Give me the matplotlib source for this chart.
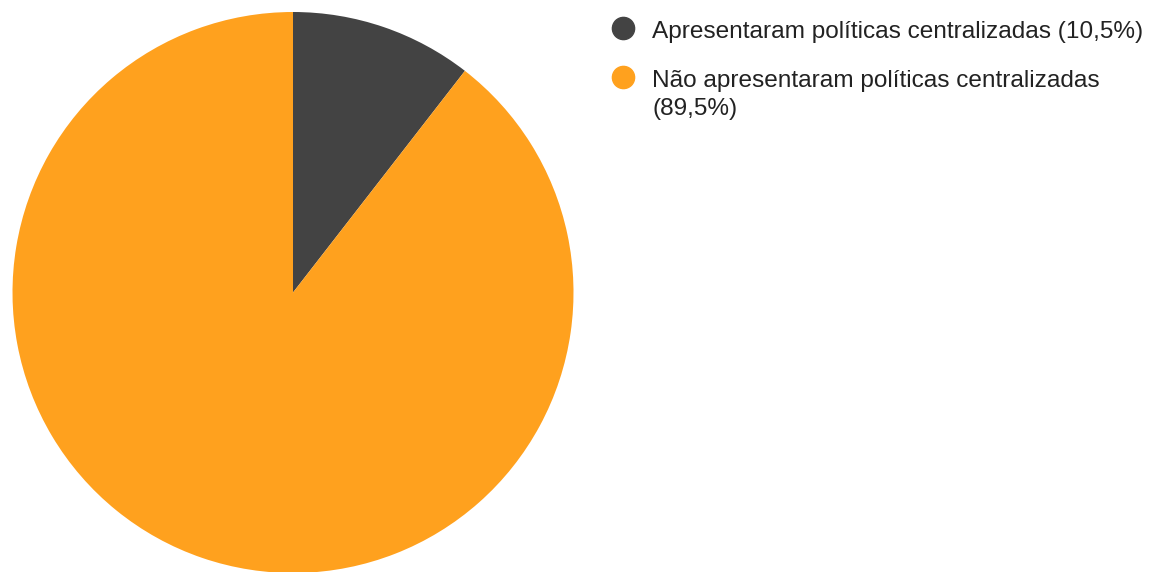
import matplotlib.pyplot as plt
from matplotlib.lines import Line2D

rotulos = [
    "Apresentaram políticas centralizadas (10,5%)",
    "Não apresentaram políticas centralizadas\n(89,5%)",
]
valores = [10.5, 89.5]
cores = ["#434343", "#FFA11E"]

plt.rcParams["font.family"] = ["Liberation Sans", "DejaVu Sans"]

W, H = 1151, 572
fig = plt.figure(figsize=(W / 100, H / 100), dpi=100)

# Camembert
ax = fig.add_axes([12.5 / W, -1 / H, 561 / W, 561 / H])
ax.pie(valores, colors=cores, startangle=90, counterclock=False,
       radius=1.0, wedgeprops={"linewidth": 0})
ax.set_xlim(-1, 1)
ax.set_ylim(-1, 1)
ax.set_aspect("equal")
ax.axis("off")

# Légende manuelle
y_marqueurs = [28, 77]
for rotulo, cor, y in zip(rotulos, cores, y_marqueurs):
    fig.add_artist(Line2D([623 / W], [1 - y / H], marker="o", markersize=16,
                          color=cor, linestyle="none",
                          transform=fig.transFigure))
    for i, ligne in enumerate(rotulo.split("\n")):
        fig.text(652 / W, 1 - (y + 10 + 27.5 * i) / H, ligne, fontsize=17.6,
                 color="#222222", va="baseline", ha="left")

fig.savefig("out.png", dpi=100)
